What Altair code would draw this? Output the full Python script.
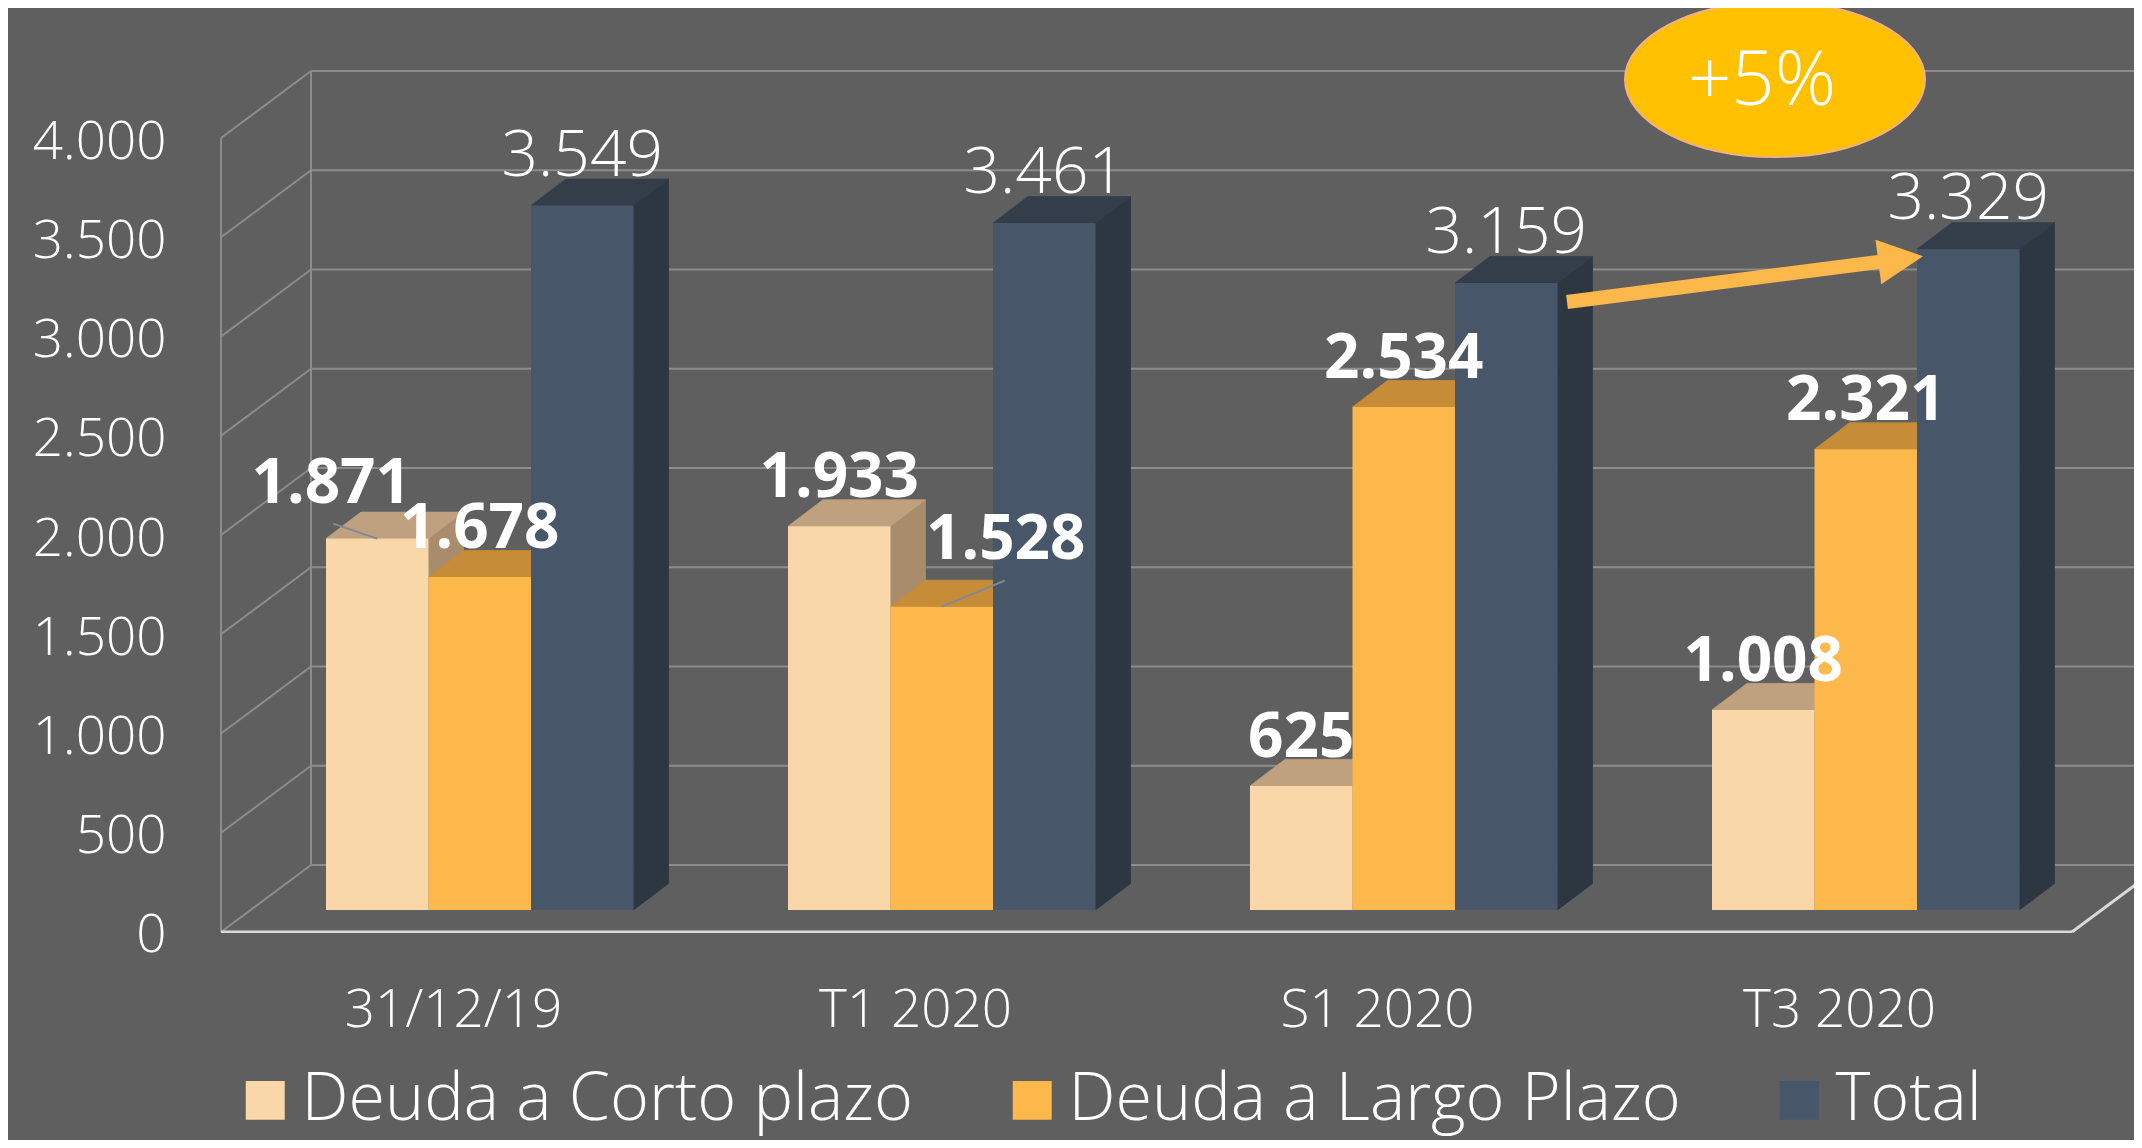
import json
import math
import altair as alt
import pandas as pd

# ---------------- data ----------------
categories = ["31/12/19", "T1 2020", "S1 2020", "T3 2020"]
series_names = ["Deuda a Corto plazo", "Deuda a Largo Plazo", "Total"]
deuda_corto = [1871, 1933, 625, 1008]
deuda_largo = [1678, 1528, 2534, 2321]
deuda_total = [3549, 3461, 3159, 3329]
y_ticks = [0, 500, 1000, 1500, 2000, 2500, 3000, 3500, 4000]
growth_text = "+5%"

# ---------------- style / geometry ----------------
FRONT = ["#FAD7A9", "#FDB84C", "#475668"]
TOP = ["#BFA17F", "#C68C38", "#343E4B"]
SIDE = ["#A88C6B", "#A8732C", "#2D3742"]
BG = "#5F5F5F"
GRID = "#8C8C8C"
FLOOR = "#D9D9D9"
ARROW_COL = "#FDB84C"
FONT = "Open Sans"

W, H = 1913, 864
V0, V1 = -116, 4237
PX_V = H / (V1 - V0)          # px per value unit
PX_U = 462.0                  # px per category step
U0 = -232 / PX_U
U1 = U0 + W / PX_U

BAR_W = 102.5 / PX_U
GROUP_OFF = -127 / PX_U
DX = 35 / PX_U
DV = 26.5 / PX_V
WALL_FRONT_V = -22 / PX_V
WALL_BACK_V = 45 / PX_V
WALL_BACK_U = U0 + 90 / PX_U
FLOOR_RIGHT_U = (2072 - 453) / PX_U


def fmt(v):
    return f"{v:,}".replace(",", ".")


values = [deuda_corto, deuda_largo, deuda_total]
rows = []
for s, vals in enumerate(values):
    for g, v in enumerate(vals):
        L = g + GROUP_OFF + s * BAR_W
        rows.append(dict(g=g, s=s, serie=series_names[s], cat=categories[g],
                         value=v, base=0, L=L, R=L + BAR_W, C=L + BAR_W / 2,
                         label=fmt(v)))
bars = pd.DataFrame(rows)

face_rows = []
for r in rows:
    L, R, T, s = r["L"], r["R"], r["value"], r["s"]
    sid = f"side-{r['g']}-{s}"
    face_rows += [
        dict(face=sid, s=s, col=SIDE[s], u=R, lo=0, hi=T),
        dict(face=sid, s=s, col=SIDE[s], u=R + DX, lo=DV, hi=T + DV),
    ]
    tid = f"top-{r['g']}-{s}"
    face_rows += [
        dict(face=tid, s=s, col=TOP[s], u=L, lo=T, hi=T),
        dict(face=tid, s=s, col=TOP[s], u=L + DX, lo=T, hi=T + DV),
        dict(face=tid, s=s, col=TOP[s], u=R, lo=T, hi=T + DV),
        dict(face=tid, s=s, col=TOP[s], u=R + DX, lo=T + DV, hi=T + DV),
    ]
faces = pd.DataFrame(face_rows)

# walls
wall_rows = []
for t in y_ticks:
    wall_rows.append(dict(u=WALL_BACK_U, u2=U1, v=t + WALL_BACK_V, v2=t + WALL_BACK_V))
    wall_rows.append(dict(u=U0, u2=WALL_BACK_U, v=t + WALL_FRONT_V, v2=t + WALL_BACK_V))
wall_rows.append(dict(u=U0, u2=U0, v=WALL_FRONT_V, v2=y_ticks[-1] + WALL_FRONT_V))
wall_rows.append(dict(u=WALL_BACK_U, u2=WALL_BACK_U, v=WALL_BACK_V, v2=y_ticks[-1] + WALL_BACK_V))
walls = pd.DataFrame(wall_rows)
floor = pd.DataFrame([
    dict(u=U0, u2=FLOOR_RIGHT_U, v=WALL_FRONT_V, v2=WALL_FRONT_V),
    dict(u=FLOOR_RIGHT_U, u2=FLOOR_RIGHT_U + 90 / PX_U, v=WALL_FRONT_V, v2=WALL_BACK_V),
])

xs = alt.Scale(domain=[U0, U1], nice=False, zero=False)
ys = alt.Scale(domain=[V0, V1], nice=False, zero=False)

x_axis = alt.Axis(values=[0, 1, 2, 3], labelExpr=json.dumps(categories) + "[datum.value]",
                  title=None, domain=False, ticks=False, grid=False, labelFont=FONT,
                  labelFontSize=53, labelColor="white", labelFontWeight=300,
                  labelPadding=51, labelFlush=False, labelOverlap=False, labelLimit=600)
y_axis = alt.Axis(values=y_ticks, labelExpr="replace(format(datum.value, ','), ',', '.')",
                  title=None, domain=False, ticks=False, grid=False, labelFont=FONT,
                  labelFontSize=53, labelColor="white", labelFontWeight=300,
                  labelPadding=55, labelOffset=26, labelFlush=False, labelOverlap=False,
                  labelLimit=600)


def X(field):
    return alt.X(field, scale=xs, axis=x_axis)


def Y(field, **kw):
    return alt.Y(field, scale=ys, axis=y_axis, **kw)


layers = []
layers.append(alt.Chart(walls).mark_rule(color=GRID, strokeWidth=2).encode(
    x=X("u:Q"), x2="u2:Q", y=Y("v:Q"), y2="v2:Q"))

color_scale = alt.Scale(domain=series_names, range=FRONT)
legend = alt.Legend(orient="none", legendX=11, legendY=998, direction="horizontal",
                    title=None, labelFont=FONT, labelFontSize=66.5, labelColor="white",
                    labelFontWeight=300, symbolType="square", symbolSize=1520,
                    symbolStrokeWidth=0, symbolOpacity=1, labelOffset=3,
                    columnPadding=85, labelLimit=0, padding=0)

for s in range(3):
    layers.append(
        alt.Chart(faces[faces.s == s]).mark_area(strokeWidth=0.8, opacity=1).encode(
            x=X("u:Q"),
            y=Y("lo:Q", stack=None),
            y2="hi:Q",
            detail="face:N",
            fill=alt.Fill("col:N", scale=None),
            stroke=alt.Stroke("col:N", scale=None),
        ))
    layers.append(
        alt.Chart(bars[bars.s == s]).mark_rect(opacity=1).encode(
            x=X("L:Q"), x2="R:Q",
            y=Y("value:Q"), y2="base:Q",
            color=alt.Color("serie:N", scale=color_scale,
                            legend=legend if s == 0 else None),
        ))

# floor front line
layers.append(alt.Chart(floor).mark_rule(color=FLOOR, strokeWidth=3, clip=True).encode(
    x=X("u:Q"), x2="u2:Q", y=Y("v:Q"), y2="v2:Q"))

# data labels (two labels were dragged away from their bars, with leader lines)
moved = {(0, 0): (-46, -36, -44, 15), (1, 1): (64, -48, 63, 26)}
bars["moved"] = [(g, s) in moved for g, s in zip(bars.g, bars.s)]

lead_rows = []
for (g, s), (_, _, ldx, ldy) in moved.items():
    r = bars[(bars.g == g) & (bars.s == s)].iloc[0]
    lead_rows.append(dict(u=r.C, v=r.value, u2=r.C + ldx / PX_U, v2=r.value + ldy / PX_V))
leaders = pd.DataFrame(lead_rows)
layers.append(alt.Chart(leaders).mark_rule(color="#7F8A99", strokeWidth=2).encode(
    x=X("u:Q"), x2="u2:Q", y=Y("v:Q"), y2="v2:Q"))

bold_norm = bars[(bars.s < 2) & (~bars.moved)]
layers.append(alt.Chart(bold_norm).mark_text(
    font=FONT, fontSize=62, fontWeight="bold", color="white", baseline="alphabetic",
    align="center", dy=-29).encode(x=X("C:Q"), y=Y("value:Q"), text="label:N"))
for (g, s), (tdx, tdy, _, _) in moved.items():
    layers.append(alt.Chart(bars[(bars.g == g) & (bars.s == s)]).mark_text(
        font=FONT, fontSize=62, fontWeight="bold", color="white", baseline="alphabetic",
        align="center", dx=tdx, dy=tdy).encode(x=X("C:Q"), y=Y("value:Q"), text="label:N"))

layers.append(alt.Chart(bars[bars.s == 2]).mark_text(
    font=FONT, fontSize=64, fontWeight=300, color="white", baseline="alphabetic",
    align="center", dy=-30).encode(x=X("C:Q"), y=Y("value:Q"), text="label:N"))

# arrow from S1 total to T3 total
b_from = bars[(bars.g == 2) & (bars.s == 2)].iloc[0]
b_to = bars[(bars.g == 3) & (bars.s == 2)].iloc[0]
sx, sy = 9.5, 19       # px offsets from bar (right edge / top)
tx, ty = 6, 7          # px offsets of tip from bar (left edge / top)
start_u, start_v = b_from.R + sx / PX_U, b_from.value - sy / PX_V
tip_u, tip_v = b_to.L + tx / PX_U, b_to.value - ty / PX_V
dpx = (tip_u - start_u) * PX_U
dpy = -(tip_v - start_v) * PX_V
ang = math.degrees(math.atan2(dpy, dpx))
head = 45
cos_a, sin_a = math.cos(math.radians(ang)), math.sin(math.radians(ang))
base_u = tip_u - head * cos_a / PX_U
base_v = tip_v + head * sin_a / PX_V
shaft = pd.DataFrame([dict(u=start_u, v=start_v, u2=base_u + 2 * cos_a / PX_U,
                           v2=base_v - 2 * sin_a / PX_V)])
layers.append(alt.Chart(shaft).mark_rule(color=ARROW_COL, strokeWidth=14, strokeCap="butt").encode(
    x=X("u:Q"), x2="u2:Q", y=Y("v:Q"), y2="v2:Q"))
headdf = pd.DataFrame([dict(u=base_u, v=base_v)])
layers.append(alt.Chart(headdf).mark_point(
    shape="M 0 -1 L 2 0 L 0 1 Z", filled=True, size=head * head, angle=(ang % 360),
    color=ARROW_COL, opacity=1, strokeWidth=0).encode(x=X("u:Q"), y=Y("v:Q")))

# +5% bubble
bubble = pd.DataFrame([dict(u=(1775 - 453) / PX_U, v=(910 - 79.5) / PX_V,
                            tu=(1762 - 453) / PX_U, tv=(910 - 105) / PX_V,
                            text=growth_text)])
layers.append(alt.Chart(bubble).mark_point(
    shape="M -1 0 A 1 0.517 0 1 1 1 0 A 1 0.517 0 1 1 -1 0 Z", filled=True,
    size=300 * 300, fill="#FFC000", stroke="#F4B183", strokeWidth=2, opacity=1).encode(
    x=X("u:Q"), y=Y("v:Q")))
layers.append(alt.Chart(bubble).mark_text(
    font=FONT, fontSize=76, fontWeight=300, color="white", baseline="alphabetic",
    align="center").encode(x=X("tu:Q"), y=Y("tv:Q"), text="text:N"))

chart = alt.layer(*layers).properties(
    width=W, height=H,
    autosize=alt.AutoSizeParams(type="none"),
    padding={"left": 213, "top": 61, "right": 0, "bottom": 207},
).configure(background=BG).configure_view(stroke=None)

chart.save("out.html", embed_options={"renderer": "svg", "actions": False})
